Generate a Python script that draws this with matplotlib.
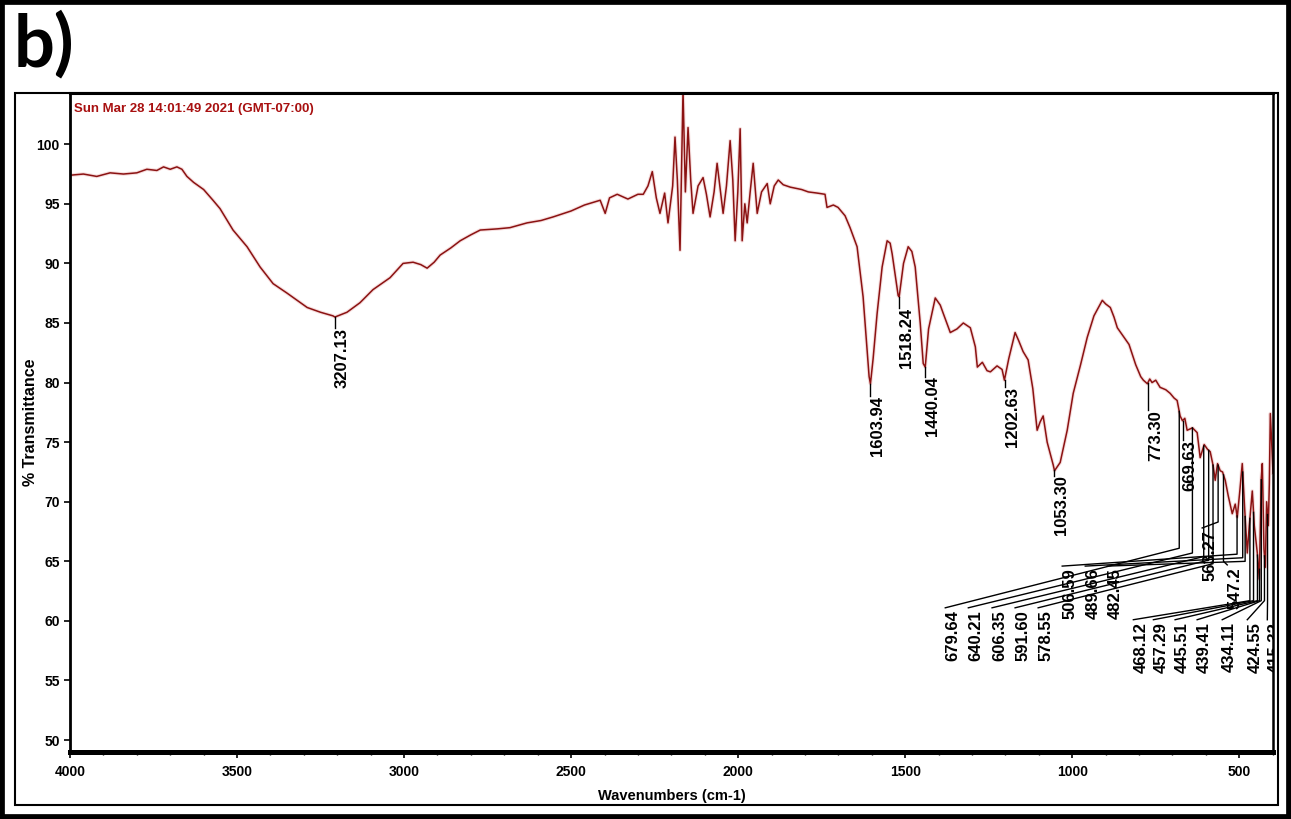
import numpy as np
import matplotlib
matplotlib.use("Agg")
import matplotlib.pyplot as plt
from matplotlib.patches import Rectangle
from matplotlib.ticker import MultipleLocator

# Spectrum (wavenumber, %T)
wavenumber = [
    4000, 3960, 3920, 3880, 3840, 3800, 3770, 3740, 3720, 3700, 3680, 3665, 3650,
    3630, 3600, 3572, 3551, 3512, 3470, 3431, 3392, 3350, 3290, 3250, 3213, 3207,
    3171, 3132, 3093, 3042, 3003, 2973, 2950, 2931, 2910, 2892, 2860, 2832, 2800,
    2772, 2720, 2683, 2632, 2590, 2554, 2500, 2460, 2413, 2398, 2385, 2362, 2330,
    2300, 2284, 2270, 2257, 2245, 2234, 2220, 2210, 2196, 2189, 2182, 2174, 2165,
    2158, 2150, 2142, 2135, 2120, 2105, 2095, 2084, 2072, 2063, 2055, 2045, 2035,
    2024, 2016, 2009, 2001, 1994, 1988, 1980, 1973, 1964, 1955, 1943, 1930, 1913,
    1904, 1892, 1880, 1865, 1844, 1810, 1790, 1763, 1740, 1734, 1715, 1701, 1680,
    1665, 1644, 1626, 1608, 1604, 1596, 1584, 1569, 1554, 1545, 1539, 1521, 1518,
    1505, 1491, 1480, 1470, 1455, 1446, 1440, 1430, 1410, 1395, 1386, 1365, 1345,
    1326, 1305, 1290, 1284, 1269, 1255, 1245, 1225, 1210, 1203, 1190, 1171, 1160,
    1147, 1132, 1118, 1105, 1096, 1087, 1075, 1057, 1053, 1036, 1015, 997, 975,
    955, 935, 910, 900, 886, 875, 865, 850, 830, 810, 795, 787, 775, 768, 761,
    750, 737, 720, 707, 695, 686, 677, 670, 663, 656, 640, 626, 617, 605, 595,
    587, 578, 572, 565, 557, 550, 542, 533, 521, 512, 506, 498, 491, 484, 476,
    470, 461, 455, 446, 440, 434, 431, 426, 422, 418, 413, 410, 407, 403, 399,
]
transmittance = [
    97.4, 97.5, 97.3, 97.6, 97.5, 97.6, 97.9, 97.8, 98.1, 97.9, 98.1, 97.9, 97.3,
    96.8, 96.2, 95.3, 94.6, 92.8, 91.4, 89.7, 88.3, 87.5, 86.3, 85.9, 85.6, 85.5,
    85.9, 86.7, 87.8, 88.8, 90.0, 90.1, 89.9, 89.6, 90.1, 90.7, 91.3, 91.9, 92.4,
    92.8, 92.9, 93.0, 93.4, 93.6, 93.9, 94.4, 94.9, 95.3, 94.2, 95.5, 95.8, 95.4,
    95.8, 95.8, 96.5, 97.7, 95.5, 94.2, 95.9, 93.4, 96.5, 100.6, 97.0, 91.1, 104.5,
    96.0, 101.4, 97.0, 94.2, 96.5, 97.2, 95.8, 93.9, 96.0, 98.4, 96.5, 94.2, 96.5,
    100.3, 97.0, 91.9, 96.0, 101.3, 91.9, 95.0, 93.4, 96.0, 98.4, 94.2, 96.0, 96.7,
    95.0, 96.5, 97.0, 96.6, 96.4, 96.2, 96.0, 95.9, 95.8, 94.7, 94.9, 94.7, 94.0,
    93.0, 91.4, 87.2, 80.5, 79.9, 82.0, 85.8, 89.7, 91.9, 91.7, 90.8, 87.3, 87.2,
    90.0, 91.4, 91.0, 89.7, 85.0, 81.6, 81.3, 84.5, 87.1, 86.5, 85.8, 84.2, 84.5,
    85.0, 84.6, 83.0, 81.3, 81.7, 81.0, 80.9, 81.4, 81.1, 80.2, 82.0, 84.2, 83.5,
    82.6, 81.9, 79.5, 76.0, 76.7, 77.2, 75.0, 73.1, 72.6, 73.3, 76.0, 79.1, 81.5,
    83.8, 85.6, 86.9, 86.6, 86.3, 85.5, 84.6, 84.0, 83.2, 81.5, 80.5, 80.2, 79.9, 80.3, 80.0,
    80.2, 79.6, 79.4, 79.1, 78.7, 78.5, 77.2, 76.8, 77.0, 76.0, 76.2, 75.8, 73.7, 74.8, 74.4,
    74.2, 73.0, 71.8, 73.2, 72.6, 72.5, 71.8, 70.5, 69.0, 69.8, 68.7, 71.0, 73.2, 69.5, 65.7,
    68.0, 70.9, 68.0, 65.7, 63.5, 72.0, 73.2, 66.0, 64.5, 70.0, 68.0, 71.5, 77.4, 75.0, 72.4,
]

# Peaks labelled straight below the curve
simple_labels = ["3207.13", "1603.94", "1518.24", "1440.04", "1202.63", "1053.30", "773.30", "669.63"]
simple_peaks = [3207.13, 1603.94, 1518.24, 1440.04, 1202.63, 1053.30, 773.30, 669.63]
simple_text_top = [84.6, 78.9, 86.3, 80.5, 79.6, 72.2, 77.7, 75.2]

# Crowded peaks with bent leader lines
cluster_labels = ["679.64", "640.21", "606.35", "591.60", "578.55",
                  "506.59", "489.66", "482.45", "563.27", "547.2",
                  "468.12", "457.29", "445.51", "439.41", "434.11", "424.55", "415.32"]
cluster_peaks = [679.64, 640.21, 606.35, 591.60, 578.55,
                 506.59, 489.66, 482.45, 563.27, 547.22,
                 468.12, 457.29, 445.51, 439.41, 434.11, 424.55, 415.32]
cluster_text_x = [1380, 1311, 1240, 1171, 1102,
                  1030, 961, 895, 611, 536,
                  817, 757, 692, 626, 551, 476, 416]
cluster_text_top = [60.9] * 5 + [64.4] * 3 + [67.6, 64.5] + [59.9] * 7
cluster_elbow = [66.1, 65.7, 65.4, 65.1, 64.8,
                 65.6, 65.3, 65.0, 68.3, 65.0,
                 61.7, 61.7, 61.7, 61.7, 61.7, 61.7, 61.7]

W, H = 1291, 819
fig = plt.figure(figsize=(W / 100, H / 100), dpi=100)
narrow = ["Liberation Sans Narrow", "Liberation Sans", "DejaVu Sans"]
plain = ["Liberation Sans", "DejaVu Sans"]

# outer black border and inner frame
fig.patches.append(Rectangle((0, 0), 1, 1, transform=fig.transFigure,
                             fill=False, edgecolor="black", linewidth=7))
fig.patches.append(Rectangle((15 / W, 1 - 805 / H), (1278 - 15) / W, (805 - 93) / H,
                             transform=fig.transFigure, fill=False,
                             edgecolor="black", linewidth=1.5))
fig.text(14 / W, 1 - 45 / H, "b)", fontsize=52, fontweight="bold",
         family=["Lato", "DejaVu Sans"], va="center", ha="left")

ax = fig.add_axes([70 / W, 1 - 752 / H, (1273 - 70) / W, (752 - 93) / H])
ax.plot(wavenumber, transmittance, color="#c44", linewidth=2.6, alpha=0.18)
ax.plot(wavenumber, transmittance, color="#8b1212", linewidth=1.1)
ax.set_xlim(4000, 399)
ax.set_ylim(49.0, 104.3)

ax.xaxis.set_major_locator(MultipleLocator(500))
ax.xaxis.set_minor_locator(MultipleLocator(100))
ax.yaxis.set_major_locator(MultipleLocator(5))
ax.tick_params(axis="both", which="major", length=4, width=1.2, direction="out")
ax.tick_params(axis="x", which="minor", length=2.5, width=1, direction="out")
ax.tick_params(axis="x", pad=5)
for lab in ax.get_xticklabels() + ax.get_yticklabels():
    lab.set_family(narrow)
    lab.set_fontweight("bold")
    lab.set_fontsize(10)

ax.spines["left"].set_linewidth(2.0)
ax.spines["bottom"].set_linewidth(3.6)
ax.spines["top"].set_linewidth(2.2)
ax.spines["right"].set_linewidth(1.8)

ax.set_xlabel("Wavenumbers (cm-1)", family=narrow, fontweight="bold", fontsize=10.5)
ax.set_ylabel("% Transmittance", family=plain, fontweight="bold", fontsize=11.5)
ax.xaxis.set_label_coords(0.5, -0.056)
ax.yaxis.set_label_coords(-0.027, 0.5)

ax.text(0.003, 0.975, "Sun Mar 28 14:01:49 2021 (GMT-07:00)", transform=ax.transAxes,
        color="#a81010", family=narrow, fontweight="bold", fontsize=9.5, va="center", ha="left")

wn_sorted = np.array(wavenumber[::-1], dtype=float)
tr_sorted = np.array(transmittance[::-1], dtype=float)

def curve_at(w):
    return np.interp(w, wn_sorted, tr_sorted)

label_font = dict(family=plain, fontweight="bold", fontsize=12, rotation=90,
                  ha="left", va="top", clip_on=True)

for lab, w, top in zip(simple_labels, simple_peaks, simple_text_top):
    ax.plot([w, w], [curve_at(w), top], color="black", linewidth=1.0)
    ax.text(w, top, lab, **label_font)

for lab, w, tx, top, elbow in zip(cluster_labels, cluster_peaks, cluster_text_x,
                                  cluster_text_top, cluster_elbow):
    ax.plot([w, w, tx], [curve_at(w), elbow, top + 0.2], color="black", linewidth=1.0)
    ax.text(tx, top, lab, **label_font)

fig.savefig("out.png", dpi=100)
